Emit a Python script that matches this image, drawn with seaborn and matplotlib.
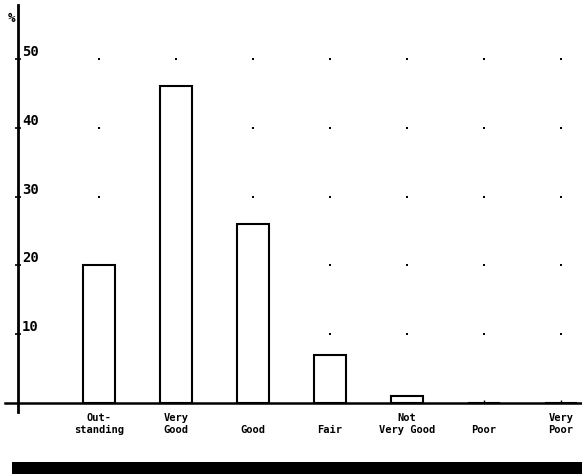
import numpy as np
import pandas as pd
import seaborn as sns
import matplotlib.pyplot as plt
from matplotlib.patches import Rectangle

# survey ratings, percent of respondents
categories = ["Outstanding", "Very Good", "Good", "Fair", "Not Very Good", "Poor", "Very Poor"]
tick_labels = ["Out-\nstanding", "Very\nGood", "\nGood", "\nFair", "Not\nVery Good", "\nPoor", "Very\nPoor"]
percents = [20, 46, 26, 7, 1, 0, 0]
y_ticks = [10, 20, 30, 40, 50]

sns.set_style("white")
plt.rcParams['font.family'] = ['DejaVu Sans Mono', 'DejaVu Sans']
plt.rcParams['font.weight'] = 'bold'
plt.rcParams['text.color'] = 'black'
plt.rcParams['xtick.color'] = 'black'
plt.rcParams['ytick.color'] = 'black'
plt.rcParams['axes.edgecolor'] = 'black'

df = pd.DataFrame({"rating": categories, "pct": percents})

# dotted grid: one dot per category per tick level
grid = pd.DataFrame([(c, v) for v in y_ticks for c in categories], columns=["rating", "level"])

fig = plt.figure(figsize=(5.82, 4.74), dpi=100)
ax = fig.add_axes([0, 0, 1, 1])

sns.scatterplot(data=grid, x="rating", y="level", color="black", s=4,
                linewidth=0, marker="s", ax=ax, zorder=1)
sns.barplot(data=df, x="rating", y="pct", order=categories, width=0.42,
            facecolor="white", edgecolor="black", linewidth=1.5, ax=ax, zorder=2)

# map the whole figure to data space
ax.set_xlim(-1.286, 6.273)
ax.set_ylim(-10.29, 58.55)
ax.set_xlabel("")
ax.set_ylabel("")

for side in ["top", "right"]:
    ax.spines[side].set_visible(False)
ax.spines["left"].set_position(("data", -1.052))
ax.spines["left"].set_bounds(-1.3, 57.8)
ax.spines["left"].set_linewidth(2)
ax.spines["bottom"].set_position(("data", 0))
ax.spines["bottom"].set_bounds(-1.22, 6.273)
ax.spines["bottom"].set_linewidth(1.8)

ax.set_yticks(y_ticks)
ax.set_yticklabels([str(v) for v in y_ticks])
ax.tick_params(axis="y", left=True, direction="inout", length=5, width=1.2,
               pad=-5.5, labelsize=10, labelcolor="black")
for lab in ax.get_yticklabels():
    lab.set_horizontalalignment("left")
    lab.set_verticalalignment("bottom")
    lab.set_fontweight("bold")

ax.set_xticks(range(len(categories)))
ax.set_xticklabels(tick_labels, fontsize=7.5, fontweight="bold", linespacing=1.3)
ax.tick_params(axis="x", bottom=True, direction="in", length=2, width=1, pad=7,
               labelcolor="black")

fig.text(12 / 582, 1 - 18 / 474, "%", fontsize=9, fontweight="bold",
         ha="center", va="center")

# black strip along the bottom of the page
fig.patches.append(Rectangle((12 / 582, 0), 1 - 12 / 582, 12 / 474,
                             transform=fig.transFigure, facecolor="black",
                             edgecolor="none"))

fig.savefig("out.png", dpi=100)
